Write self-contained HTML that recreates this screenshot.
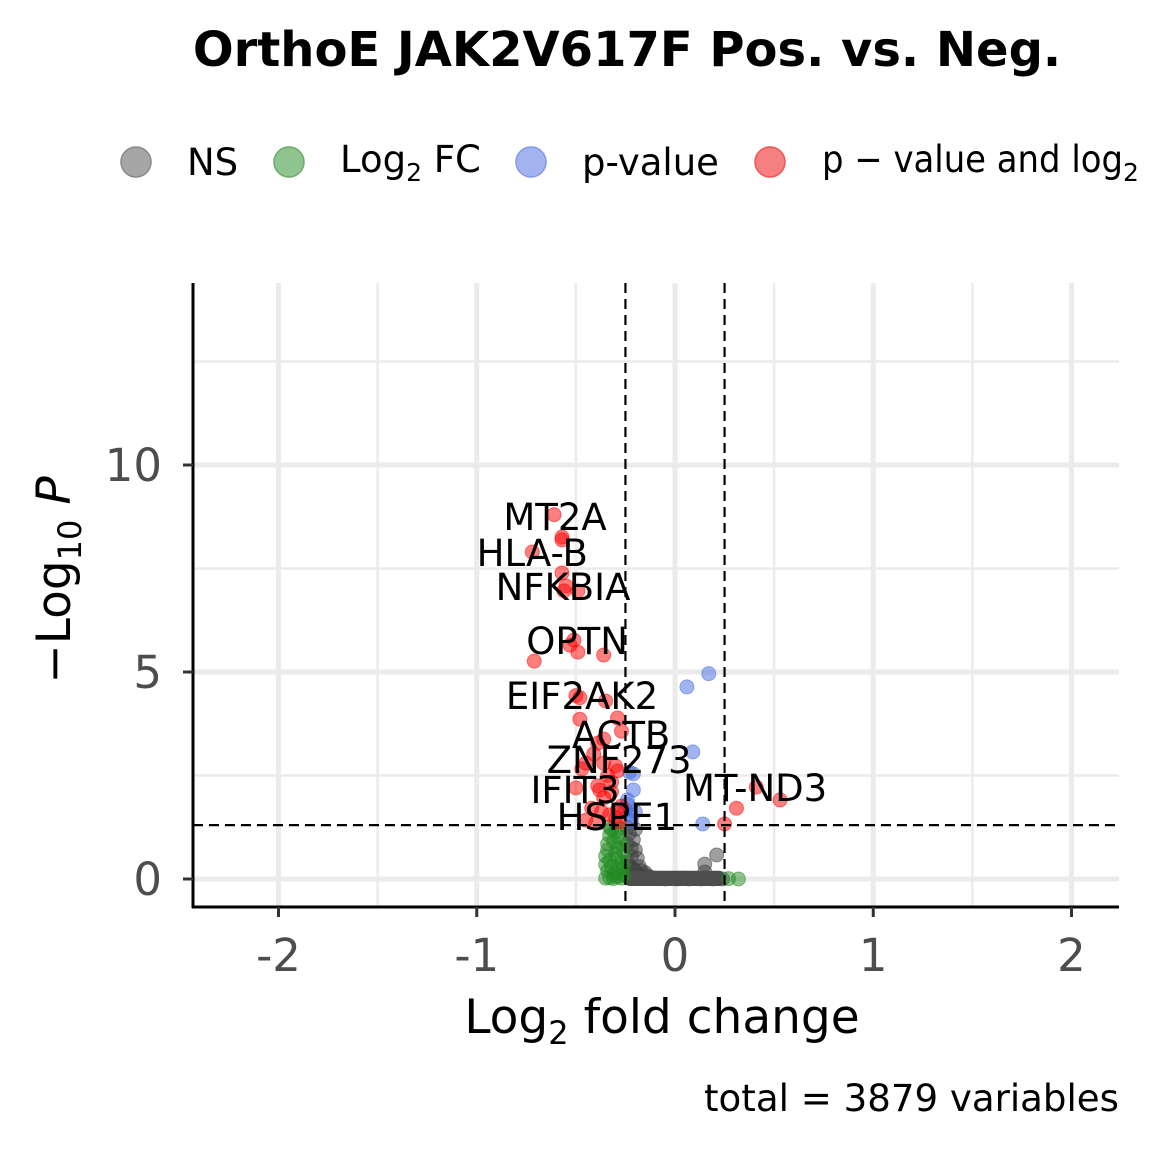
<!DOCTYPE html>
<html><head><meta charset="utf-8"><style>
html,body{margin:0;padding:0;background:#fff;}
svg{display:block;font-family:"DejaVu Sans","Liberation Sans",sans-serif;}
</style></head><body>
<svg id="chart" width="1152" height="1152" viewBox="0 0 1152 1152" xmlns="http://www.w3.org/2000/svg">
<text x="627" y="66" text-anchor="middle" font-size="48" font-weight="bold">OrthoE JAK2V617F Pos. vs. Neg.</text>
<g font-size="37">
 <g><circle cx="136" cy="162" r="15" fill="#a6a6a6" stroke="#888" stroke-width="1.5"/><text x="187" y="175">NS</text></g>
 <g><circle cx="289" cy="162" r="15" fill="#8fc48f" stroke="#6aaa6a" stroke-width="1.5"/><text x="340" y="172">Log<tspan font-size="25" dy="9">2</tspan><tspan dy="-9"> FC</tspan></text></g>
 <g><circle cx="531" cy="162" r="15" fill="#a3b3ef" stroke="#8198ea" stroke-width="1.5"/><text x="582" y="175">p-value</text></g>
 <g><circle cx="770" cy="162" r="15" fill="#f58080" stroke="#ee5555" stroke-width="1.5"/><text x="822" y="172" textLength="301" lengthAdjust="spacingAndGlyphs">p − value and log</text><text x="1123" y="181" font-size="25">2</text></g>
</g>
<g id="grid"></g>
<g id="marks"></g>
<g id="cuts"></g>
<g id="labels" font-size="37"></g>
<g id="axes"></g>
<text x="662" y="1033" text-anchor="middle" font-size="47">Log<tspan font-size="32" dy="11">2</tspan><tspan dy="-11"> fold change</tspan></text>
<text transform="translate(70,580) rotate(-90)" text-anchor="middle" font-size="47">−Log<tspan font-size="32" dy="11">10</tspan><tspan dy="-11" font-style="italic"> P</tspan></text>
<text x="1119" y="1111" text-anchor="end" font-size="37" textLength="415" lengthAdjust="spacingAndGlyphs">total = 3879 variables</text>
</svg>
<script>
const xTicks=[-2,-1,0,1,2];
const xMinor=[-1.5,-0.5,0.5,1.5];
const yTicks=[0,5,10];
const yMinor=[2.5,7.5,12.5];
const redX=[-0.61,-0.57,-0.57,-0.72,-0.57,-0.55,-0.49,-0.56,-0.51,-0.53,-0.49,-0.36,-0.71,-0.50,-0.48,-0.35,-0.48,-0.29,-0.27,-0.36,-0.39,-0.41,-0.45,-0.36,-0.30,-0.29,-0.47,-0.34,-0.32,-0.39,-0.50,-0.38,-0.32,-0.36,-0.42,-0.37,-0.29,-0.27,-0.45,-0.40,-0.30,-0.33,-0.28,0.41,0.53,0.31,0.25];
const redY=[8.80,8.26,8.19,7.90,7.39,7.08,6.96,6.96,5.77,5.65,5.48,5.41,5.26,4.43,4.38,4.30,3.86,3.89,3.57,3.38,3.28,3.02,2.80,2.80,2.73,2.61,2.66,2.50,2.34,2.25,2.20,2.15,2.10,1.96,1.71,1.62,1.67,1.76,1.42,1.35,1.47,1.55,1.38,2.22,1.91,1.71,1.33];
const blueX=[0.17,0.06,0.09,-0.23,-0.21,-0.21,-0.24,-0.25,-0.23,0.14,-0.20,-0.22,-0.24];
const blueY=[4.96,4.64,3.07,2.58,2.54,2.15,1.91,1.67,1.55,1.33,1.62,1.40,1.80];
const greenX=[-0.35,-0.33,-0.31,-0.29,-0.27,-0.34,-0.32,-0.30,-0.28,-0.26,-0.35,-0.33,-0.30,-0.27,-0.34,-0.31,-0.29,-0.26,-0.33,-0.30,-0.28,-0.35,-0.32,-0.27,-0.34,-0.29,-0.31,-0.26,-0.33,-0.28,0.32,0.27];
const greenY=[0.02,0.03,0.01,0.05,0.02,0.20,0.30,0.15,0.25,0.10,0.55,0.45,0.60,0.40,0.85,0.90,0.75,0.65,1.05,1.15,1.00,0.35,1.20,0.85,0.70,0.50,0.10,0.30,1.25,1.22,0.00,0.01];
const greyX=[-0.24,-0.22,-0.20,-0.18,-0.16,-0.24,-0.22,-0.20,-0.24,-0.21,-0.18,-0.23,-0.20,-0.24,-0.22,-0.19,-0.15,-0.12,-0.10,-0.08,-0.05,-0.02,0.01,0.04,0.07,0.10,0.13,0.16,0.19,0.22,0.24,-0.23,-0.14,0.21,0.15,0.15,-0.21,-0.17];
const greyY=[0.05,0.12,0.20,0.10,0.05,0.40,0.55,0.70,0.85,0.95,0.30,1.10,1.20,1.25,0.75,0.50,0.15,0.04,0.02,0.01,0.00,0.01,0.00,0.02,0.00,0.01,0.00,0.02,0.00,0.01,0.00,0.30,0.08,0.58,0.36,0.17,0.25,0.20];
const labelText=["MT2A","HLA-B","NFKBIA","OPTN","EIF2AK2","ACTB","ZNF273","IFIT3","HSPE1","MT-ND3"];
const labelX=[-0.605,-0.72,-0.565,-0.494,-0.469,-0.272,-0.282,-0.504,-0.293,0.404];
const labelY=[8.74,7.87,7.05,5.75,4.42,3.48,2.87,2.15,1.50,2.20];
const X0=193,X1=1119,Y0=283,Y1=907;
function sx(v){return 675+v*198.25;}
function sy(v){return 879-v*41.4;}
const NS='http://www.w3.org/2000/svg';
function mk(parent,tag,attrs){const e=document.createElementNS(NS,tag);for(const k in attrs)e.setAttribute(k,attrs[k]);parent.appendChild(e);return e;}
const grid=document.getElementById('grid');
xMinor.forEach(v=>{const l=mk(grid,'line',{x1:sx(v),x2:sx(v),y1:Y0,y2:Y1,stroke:'#ebebeb','stroke-width':2.5});

});
yMinor.forEach(v=>{const l=mk(grid,'line',{x1:X0,x2:X1,y1:sy(v),y2:sy(v),stroke:'#ebebeb','stroke-width':2.5});

});
xTicks.forEach(v=>{const l=mk(grid,'line',{x1:sx(v),x2:sx(v),y1:Y0,y2:Y1,stroke:'#ebebeb','stroke-width':5});

});
yTicks.forEach(v=>{const l=mk(grid,'line',{x1:X0,x2:X1,y1:sy(v),y2:sy(v),stroke:'#ebebeb','stroke-width':5});

});
const marks=document.getElementById('marks');
function series(xs,ys,fill,name){xs.forEach((x,i)=>{const c=mk(marks,'circle',{cx:sx(x),cy:sy(ys[i]),r:7,fill:fill,'fill-opacity':0.5,stroke:fill,'stroke-opacity':0.5});

});}
series(greyX,greyY,'#404040','point-ns');
const band=mk(marks,'rect',{x:sx(-0.25),y:sy(0.2),width:sx(0.245)-sx(-0.25),height:sy(0)-sy(0.2)+7,fill:'#4d4d4d',rx:4});


series(greenX,greenY,'#228b22','point-log2fc');
series(blueX,blueY,'#4169e1','point-pvalue');
series(redX,redY,'#ff0000','point-pvalue-and-log2fc');
const cuts=document.getElementById('cuts');
[-0.25,0.25].forEach(v=>{const l=mk(cuts,'line',{x1:sx(v),x2:sx(v),y1:Y0,y2:Y1,stroke:'#000','stroke-width':2.2,'stroke-dasharray':'10,6'});

});
const hl=mk(cuts,'line',{x1:X0,x2:X1,y1:sy(1.30103),y2:sy(1.30103),stroke:'#000','stroke-width':2.2,'stroke-dasharray':'10,6'});


const labels=document.getElementById('labels');
labelText.forEach((t,i)=>{const e=mk(labels,'text',{x:sx(labelX[i]),y:sy(labelY[i])+13,'text-anchor':'middle'});e.textContent=t;

});
const axes=document.getElementById('axes');
mk(axes,'line',{x1:X0,x2:X0,y1:Y0,y2:Y1+1,stroke:'#000','stroke-width':3});
mk(axes,'line',{x1:X0-1,x2:X1,y1:Y1,y2:Y1,stroke:'#000','stroke-width':3});
xTicks.forEach(v=>{mk(axes,'line',{x1:sx(v),x2:sx(v),y1:Y1,y2:Y1+10,stroke:'#333','stroke-width':3});
const t=mk(axes,'text',{x:sx(v),y:971,'text-anchor':'middle','font-size':45,fill:'#4d4d4d'});t.textContent=v<0?'-'+(-v):String(v);

});
yTicks.forEach(v=>{mk(axes,'line',{x1:X0-10,x2:X0,y1:sy(v),y2:sy(v),stroke:'#333','stroke-width':3});
const t=mk(axes,'text',{x:162,y:sy(v)+16,'text-anchor':'end','font-size':45,fill:'#4d4d4d'});t.textContent=String(v);

});
</script>
</body></html>
